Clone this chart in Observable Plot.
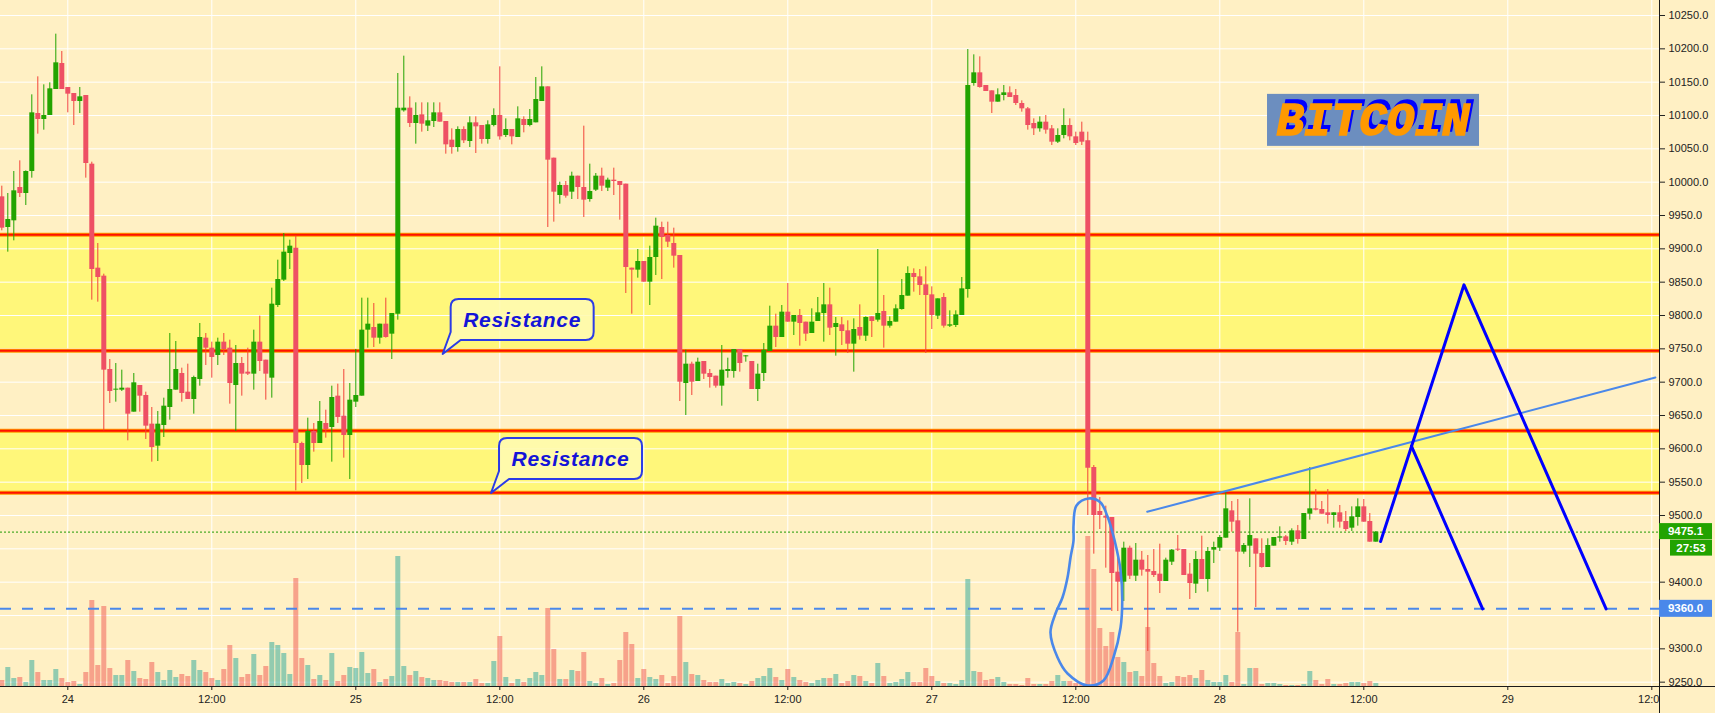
<!DOCTYPE html>
<html><head><meta charset="utf-8">
<script src="https://cdn.jsdelivr.net/npm/d3@7"></script>
<script src="https://cdn.jsdelivr.net/npm/@observablehq/plot@0.6"></script>
<style>html,body{margin:0;padding:0;background:#fff0c4;overflow:hidden}</style>
</head><body><div id="chart"></div>
<script>
// ---------- DATA ----------
const firstBar = "2019-08-23T18:30:00Z";   // 30-minute bars
const barMinutes = 30;
const open = [9978,9932,9942,9992,9983,10016,10103,10094,10100,10139,10178,10142,10133,10121,10130,10027,9871,9859,9719,9688,
9688,9691,9655,9695,9680,9637,9604,9635,9662,9688,9713,9685,9674,9704,9766,9751,9740,9760,9751,9695,
9728,9715,9712,9760,9733,9706,9815,9853,9893,9901,9608,9575,9626,9608,9638,9632,9679,9649,9620,9670,
9679,9778,9782,9766,9787,9772,9802,10107,10111,10088,10101,10084,10091,10104,10091,10063,10052,10079,10061,10089,
10085,10064,10085,10100,10070,10079,10067,10094,10085,10089,10121,10143,10036,9980,9995,9985,10009,9992,9974,9988,
10009,9991,10003,10001,9997,9871,9868,9881,9850,9887,9932,9920,9908,9890,9698,9727,9701,9731,9713,9709,
9694,9716,9716,9749,9738,9731,9689,9713,9746,9784,9767,9805,9790,9800,9790,9773,9791,9803,9816,9782,
9786,9777,9757,9782,9769,9798,9793,9806,9784,9790,9809,9829,9863,9858,9846,9831,9799,9827,9784,9785,
9800,9839,10148,10164,10145,10137,10120,10130,10134,10130,10118,10110,10088,10080,10090,10080,10060,10070,10085,10068,
10075,10062,9572,9506,9499,9497,9415,9400,9451,9409,9433,9419,9416,9412,9401,9430,9449,9449,9412,9397,
9434,9404,9448,9451,9466,9507,9492,9445,9454,9465,9443,9422,9454,9466,9468,9460,9477,9464,9502,9510,
9509,9504,9500,9504,9491,9481,9497,9513,9491,9460];
const high = [9994,9983,10016,10032,10017,10131,10158,10146,10149,10222,10196,10142,10133,10142,10130,10030,9908,9862,9734,9728,
9718,9691,9713,9695,9685,9662,9656,9676,9773,9761,9721,9727,9709,9788,9773,9760,9766,9773,9763,9755,
9737,9751,9778,9799,9733,9841,9883,9923,9913,9919,9610,9646,9638,9671,9658,9694,9697,9719,9698,9749,
9826,9826,9818,9787,9826,9803,10163,10189,10128,10119,10119,10119,10119,10119,10091,10080,10083,10083,10098,10098,
10085,10092,10110,10173,10095,10079,10113,10098,10109,10157,10173,10143,10036,10000,10001,10015,10009,10084,10027,10013,
10021,10006,10021,10001,9997,9871,9899,9881,9904,9946,9940,9940,9931,9890,9748,9730,9736,9731,9719,9709,
9755,9736,9749,9749,9740,9731,9727,9758,9814,9802,9815,9848,9800,9809,9790,9810,9827,9848,9841,9797,
9797,9792,9795,9816,9798,9798,9899,9830,9798,9816,9854,9873,9870,9869,9873,9843,9825,9833,9807,9807,
9857,10199,10191,10188,10145,10137,10140,10145,10143,10139,10122,10112,10095,10098,10100,10085,10080,10110,10095,10075,
10090,10075,9575,9527,9514,9497,9437,9460,9454,9458,9446,9440,9449,9457,9436,9449,9470,9449,9428,9446,
9469,9452,9460,9470,9536,9521,9524,9458,9525,9465,9465,9465,9467,9483,9470,9480,9485,9503,9572,9539,
9521,9539,9504,9515,9506,9513,9525,9524,9503,9476];
const low = [9927,9895,9912,9977,9965,10006,10072,10078,10100,10139,10139,10104,10085,10103,10006,9823,9820,9627,9668,9670,
9686,9612,9655,9655,9614,9580,9581,9617,9643,9688,9670,9674,9652,9694,9725,9706,9725,9740,9667,9626,
9679,9710,9688,9716,9673,9676,9812,9851,9869,9537,9548,9554,9595,9608,9616,9580,9638,9586,9554,9662,
9679,9751,9752,9757,9766,9734,9793,10105,10082,10057,10075,10076,10082,10090,10042,10042,10045,10058,10052,10043,
10057,10057,10083,10063,10067,10056,10067,10074,10083,10089,10121,9932,9940,9967,9976,9974,9974,9947,9970,9986,
9986,9986,9980,9943,9833,9802,9856,9850,9815,9860,9854,9902,9871,9671,9650,9680,9701,9704,9691,9691,
9664,9706,9706,9715,9730,9689,9671,9701,9746,9752,9767,9790,9770,9754,9761,9773,9791,9760,9770,9739,
9755,9743,9715,9763,9761,9767,9790,9751,9781,9790,9808,9829,9835,9830,9743,9779,9794,9781,9782,9782,
9800,9826,10144,10141,10136,10103,10120,10122,10127,10115,10105,10078,10070,10075,10072,10055,10058,10065,10062,10055,
10055,9500,9442,9479,9421,9356,9356,9371,9404,9401,9409,9296,9407,9383,9401,9425,9446,9410,9374,9383,
9404,9385,9428,9446,9466,9475,9325,9442,9422,9362,9421,9422,9454,9460,9455,9455,9457,9464,9493,9507,
9502,9487,9481,9481,9476,9476,9484,9490,9460,9460];
const close = [9931,9944,9987,9983,10016,10104,10094,10100,10140,10179,10139,10132,10121,10128,10028,9869,9857,9718,9686,9689,
9691,9652,9699,9679,9634,9602,9637,9664,9689,9719,9683,9674,9707,9767,9751,9737,9760,9749,9698,9728,
9712,9712,9760,9731,9712,9817,9854,9895,9904,9608,9575,9626,9608,9641,9629,9677,9647,9620,9673,9680,
9778,9787,9766,9787,9767,9803,10111,10111,10088,10100,10087,10092,10104,10090,10056,10052,10079,10062,10089,10083,
10064,10086,10100,10068,10079,10068,10095,10085,10094,10124,10143,10033,9985,9995,9979,10009,9992,9973,9986,10009,
9994,10003,10001,9995,9872,9868,9881,9850,9887,9934,9917,9910,9889,9700,9727,9700,9730,9712,9707,9694,
9718,9719,9749,9728,9739,9689,9712,9748,9784,9767,9805,9790,9800,9788,9772,9790,9804,9816,9781,9788,
9776,9757,9779,9769,9797,9791,9803,9784,9791,9810,9830,9863,9857,9845,9830,9800,9825,9784,9786,9801,
9840,10145,10164,10142,10136,10120,10131,10134,10127,10118,10110,10085,10080,10090,10078,10060,10070,10085,10068,10058,
10060,9571,9500,9500,9496,9413,9400,9451,9409,9433,9418,9415,9410,9401,9433,9448,9448,9410,9398,9434,
9404,9446,9452,9467,9510,9490,9445,9455,9470,9442,9422,9455,9467,9468,9461,9477,9464,9503,9510,9508,
9502,9500,9504,9490,9479,9498,9513,9490,9460,9475.1];
const volume = [6,19,8,9,4,26,14,6,6,17,8,4,5,2,14,86,21,80,18,11,
11,26,15,8,7,24,14,6,16,9,12,10,26,16,14,8,6,17,41,28,
9,12,32,11,20,44,41,33,12,108,28,21,7,11,6,33,5,11,19,18,
34,13,17,4,7,10,130,20,11,15,9,8,6,6,5,4,4,4,4,7,
3,3,25,50,9,3,7,4,8,14,11,78,37,7,7,16,15,34,5,3,
8,2,3,26,54,42,8,17,9,7,11,3,10,70,24,12,11,6,4,4,
7,3,4,3,2,5,8,10,18,9,6,17,9,6,4,3,6,8,8,12,
3,5,11,10,5,3,23,10,3,4,7,14,4,4,18,10,5,3,3,2,
6,107,15,14,6,7,9,4,2,2,1,8,2,2,2,5,11,5,5,3,
3,150,117,58,40,54,29,24,14,15,10,59,23,10,3,4,10,9,11,8,
16,6,4,4,11,4,54,2,18,18,2,3,3,2,1,1,1,2,15,6,
2,7,2,2,3,4,4,3,5,3];

const zoneLow = [9747, 9534];
const zoneHigh = [9921, 9627];
const resistanceLevels = [9921, 9747, 9627, 9534];
const targetLevel = 9360;
const countdown = "27:53";

const dayStart = "2019-08-24T00:00:00Z";
const timeTickHours = [0, 12, 24, 36, 48, 60, 72, 84, 96, 108, 120, 132];
const priceGrid = [9250, 9300, 9350, 9400, 9450, 9500, 9550, 9600, 9650, 9700, 9750,
  9800, 9850, 9900, 9950, 10000, 10050, 10100, 10150, 10200, 10250];
// 9350.0 and 9450.0 sit under the price tags, so they are not printed
const priceLabels = [9250, 9300, 9400, 9500, 9550, 9600, 9650, 9700, 9750,
  9800, 9850, 9900, 9950, 10000, 10050, 10100, 10150, 10200, 10250];

// hand-drawn annotations (hours after 24 00:00, price)
const loopHours = [85.06, 86.06, 86.64, 87.06, 87.39, 87.73, 87.87, 87.73, 87.14, 86.31, 84.98,
  83.31, 82.48, 81.89, 82.31, 82.89, 83.31, 83.56, 83.81, 83.81, 84.06];
const loopPrices = [9525.5, 9519.5, 9498.5, 9474.5, 9450.5, 9417.5, 9372.5, 9332, 9287, 9252.5, 9245,
  9263, 9287, 9324.5, 9353, 9377, 9407, 9437, 9462.5, 9485, 9515];
const trendHours = [89.95, 132.3];
const trendPrices = [9505.5, 9707];
const wedgeHours = [109.4, 116.35, 128.19];
const wedgePrices = [9461, 9846, 9360];
const wedgeBranchHours = [111.97, 117.9];
const wedgeBranchPrices = [9604, 9360];
const calloutHours = [31.28, 35.31];
const calloutPrices = [9741.5, 9533];
const calloutText = "Resistance";
const badgeHours = 108.81, badgePrice = 10092.7, badgeText = "BITCOIN";

// ---------- BUILD ----------
const t0 = +new Date(firstBar);
const d0 = +new Date(dayStart);
const atHours = h => new Date(d0 + h * 3600e3);
const bars = open.map((o, i) => ({
  time: new Date(t0 + i * barMinutes * 60e3),
  open: o, high: high[i], low: low[i], close: close[i], volume: volume[i]
}));
const GREEN = "#22a300", RED = "#ee5064", RED_WICK = "#f2443a";
const VOL_G = "rgba(38,166,154,0.5)", VOL_R = "rgba(239,83,80,0.5)";
const yDomain = [9243.5, 10272.5];
const volUnit = 1.5;
const up = d => d.close >= d.open;
const zones = zoneLow.map((l, i) => ({low: l, high: zoneHigh[i]}));
const loop = loopHours.map((h, i) => ({t: atHours(h), p: loopPrices[i]}));
const trend = trendHours.map((h, i) => ({t: atHours(h), p: trendPrices[i]}));
const wedge = wedgeHours.map((h, i) => ({t: atHours(h), p: wedgePrices[i]}));
const branch = wedgeBranchHours.map((h, i) => ({t: atHours(h), p: wedgeBranchPrices[i]}));
const timeTicks = timeTickHours.map(atHours);
const lastPrice = close[close.length - 1];

const plot = Plot.plot({
  width: 1715, height: 713,
  marginLeft: 0, marginRight: 56, marginTop: 0, marginBottom: 27,
  x: {type: "utc", domain: [new Date("2019-08-23T18:23:30Z"), new Date("2019-08-29T12:38:30Z")]},
  y: {domain: yDomain},
  style: {background: "#fff0c4", fontFamily: "'Liberation Sans', Arial, sans-serif", fontSize: "11px", color: "#222"},
  marks: [
    Plot.rect(zones, {y1: "low", y2: "high", fill: "#fff77a"}),
    Plot.gridY(priceGrid, {stroke: "#ffffff", strokeOpacity: 1, strokeWidth: 1}),
    Plot.gridX(timeTicks, {stroke: "#ffffff", strokeOpacity: 1, strokeWidth: 1}),
    Plot.ruleX(bars, {x: "time", y1: yDomain[0], y2: d => yDomain[0] + d.volume * volUnit,
      stroke: d => up(d) ? VOL_G : VOL_R, strokeWidth: 5}),
    Plot.ruleY(resistanceLevels, {stroke: "#ff9a00", strokeWidth: 4}),
    Plot.ruleY(resistanceLevels, {stroke: "#ff1000", strokeWidth: 2}),
    Plot.ruleY([targetLevel], {stroke: "#4a88ea", strokeWidth: 2, strokeDasharray: "11,11"}),
    Plot.ruleY([lastPrice], {stroke: "#1f9a00", strokeWidth: 1, strokeDasharray: "2,2"}),
    Plot.ruleX(bars, {x: "time", y1: "low", y2: "high", stroke: d => up(d) ? GREEN : RED_WICK, strokeWidth: 1}),
    Plot.ruleX(bars, {x: "time", y1: d => Math.min(d.open, d.close),
      y2: d => Math.max(d.open, d.close, Math.min(d.open, d.close) + 1.5),
      stroke: d => up(d) ? GREEN : RED, strokeWidth: 5}),
    Plot.line(trend, {x: "t", y: "p", stroke: "#4a88ea", strokeWidth: 2}),
    Plot.line(loop, {x: "t", y: "p", stroke: "#4a88ea", strokeWidth: 2.6, curve: "catmull-rom-closed"}),
    Plot.line(wedge, {x: "t", y: "p", stroke: "#0000ff", strokeWidth: 3}),
    Plot.line(branch, {x: "t", y: "p", stroke: "#0000ff", strokeWidth: 3}),
    Plot.axisY(priceLabels, {anchor: "right", tickFormat: d => d.toFixed(1), tickSize: 5, tickPadding: 4, label: null}),
    Plot.axisX(timeTicks, {tickFormat: d => d.getUTCHours() === 0 ? String(d.getUTCDate()) : "12:00",
      tickSize: 4, tickPadding: 5, label: null})
  ]
});
document.getElementById("chart").appendChild(plot);

// ---------- ANNOTATIONS positioned through the plot's scales ----------
const X = v => plot.scale("x").apply(v);
const Y = v => plot.scale("y").apply(v);
const svg = d3.select(plot);
const frameR = X(new Date("2019-08-29T12:38:30Z"));
const frameB = Y(yDomain[0]);

// callouts
calloutHours.forEach((h, i) => {
  const tx = X(atHours(h)), ty = Y(calloutPrices[i]);
  const L = tx + 8, R = tx + 151, T = ty - 55, B = ty - 14, r = 8;
  const p = `M${L + r},${T}H${R - r}Q${R},${T} ${R},${T + r}V${B - r}Q${R},${B} ${R - r},${B}H${L + 10}L${tx},${ty}L${L},${B - 8}V${T + r}Q${L},${T} ${L + r},${T}Z`;
  svg.append("path").attr("d", p).attr("fill", "#fffab0").attr("fill-opacity", 0.9)
    .attr("stroke", "#2b3ce6").attr("stroke-width", 2).attr("stroke-linejoin", "round");
  svg.append("text").attr("x", (L + R) / 2).attr("y", (T + B) / 2 + 7.5)
    .attr("text-anchor", "middle").attr("fill", "#1414d8")
    .attr("font-family", "'Liberation Sans', Arial, sans-serif").attr("font-size", 21)
    .attr("font-weight", "bold").attr("font-style", "italic").attr("letter-spacing", 0.7)
    .text(calloutText);
});

// BITCOIN badge: orange text with a blue offset shadow
{
  const cx = X(atHours(badgeHours)), cy = Y(badgePrice);
  svg.append("rect").attr("x", cx - 106).attr("y", cy - 26).attr("width", 212).attr("height", 52).attr("fill", "#6c8ebf");
  svg.append("text").attr("x", cx).attr("y", cy + 15).attr("text-anchor", "middle")
    .attr("font-family", "'Liberation Mono', 'Courier New', monospace").attr("font-size", 46)
    .attr("font-weight", "bold").attr("font-style", "italic")
    .attr("fill", "#ff9900").attr("stroke", "#ff9900").attr("stroke-width", 1.6)
    .style("filter", "drop-shadow(3px -4px 0 #0000ff)")
    .text(badgeText);
}

// axis lines
svg.append("rect").attr("x", frameR + 1).attr("y", frameB + 2).attr("width", 1715 - frameR).attr("height", 713 - frameB).attr("fill", "#fff0c4");
svg.append("line").attr("x1", 0).attr("x2", 1715).attr("y1", frameB + 0.5).attr("y2", frameB + 0.5).attr("stroke", "#1a1a1a");
svg.append("line").attr("x1", frameR + 0.5).attr("x2", frameR + 0.5).attr("y1", 0).attr("y2", 713).attr("stroke", "#1a1a1a");

// price tags on the axis
const tag = (y0, h, x0, w, fill, text) => {
  svg.append("rect").attr("x", x0).attr("y", y0).attr("width", w).attr("height", h).attr("fill", fill);
  svg.append("text").attr("x", x0 + w / 2).attr("y", y0 + h / 2 + 4).attr("text-anchor", "middle")
    .attr("fill", "#fff").attr("font-weight", "bold").attr("font-size", 11.5)
    .attr("font-family", "'Liberation Sans', Arial, sans-serif").text(text);
};
const yl = Y(lastPrice);
tag(yl - 8.5, 16, frameR, 53, "#22a300", lastPrice.toFixed(1));
tag(yl + 8, 16, frameR + 11, 42, "#22a300", countdown);
const yt = Y(targetLevel);
tag(yt - 8.5, 17, frameR, 53, "#4a88ea", targetLevel.toFixed(1));
</script></body></html>
